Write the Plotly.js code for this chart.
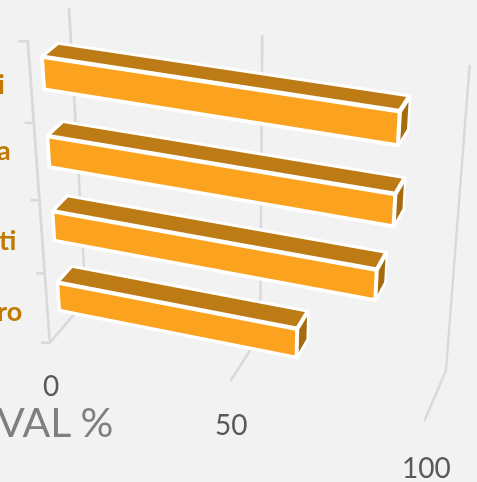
<!DOCTYPE html>
<html><head><meta charset="utf-8">
<script src="https://cdn.plot.ly/plotly-3.0.1.min.js"></script>
<style>html,body{margin:0;padding:0;width:477px;height:482px;overflow:hidden;background:#f2f2f2}
#wrap{position:absolute;left:0;top:0;width:477px;height:482px;overflow:hidden}
#p{position:absolute;left:-331px;top:-417px;width:1280px;height:1280px}</style>
</head><body><div id="wrap"><div id="p"></div></div>
<script>
// data, bottom to top
const categories = ['ro','ti','a','i'];
const values = [65, 84.5, 88, 88];
const valueTicks = [0, 50, 100];
const valueTickLabels = ['0','50','100'];
const axisTitle = 'VAL %';

const colFront='#FBA31E', colTop='#BD7B16', colEnd='#A56B0C', grid='#D9D9D9';
const barHalf=0.2, barShift=-0.01, d0=0.30, d1=0.68;
const flat={ambient:1,diffuse:0,specular:0,roughness:1,fresnel:0};

// thin prisms stand in for thick lines, as WebGL lines are one pixel wide
function lineMesh(segs,w,color){
  const h=[w/4.1,w/90,w/86];
  const X=[],Y=[],Z=[],I=[],J=[],K=[];
  segs.forEach(s=>{
    const a=s[0].slice(),b=s[1].slice();
    const d=[0,1,2].map(n=>Math.abs(b[n]-a[n])/h[n]);
    const m=d.indexOf(Math.max(...d));
    const sgn=b[m]>=a[m]?1:-1;
    a[m]-=sgn*h[m];b[m]+=sgn*h[m];
    const o=[0,1,2].filter(n=>n!==m);
    const base=X.length;
    [a,b].forEach(p=>[[-1,-1],[1,-1],[1,1],[-1,1]].forEach(c=>{
      const q=p.slice();q[o[0]]+=c[0]*h[o[0]];q[o[1]]+=c[1]*h[o[1]];
      X.push(q[0]);Y.push(q[1]);Z.push(q[2]);
    }));
    [[0,1,2],[0,2,3],[4,5,6],[4,6,7],[0,1,5],[0,5,4],[1,2,6],[1,6,5],[2,3,7],[2,7,6],[3,0,4],[3,4,7]].forEach(t=>{
      I.push(base+t[0]);J.push(base+t[1]);K.push(base+t[2]);
    });
  });
  return {type:'mesh3d',x:X,y:Y,z:Z,i:I,j:J,k:K,color:color,flatshading:true,lighting:flat,hoverinfo:'skip',showscale:false};
}

const data=[];
const gridSegs=[];
valueTicks.forEach(v=>{gridSegs.push([[v,0,0],[v,1,0]]);gridSegs.push([[v,1,0],[v,1,4]]);});
gridSegs.push([[0,0,0],[0,0,4]]);
for(let k=0;k<=categories.length;k++) gridSegs.push([[0,0,k],[-1.76,-0.03,k]]);
data.push(lineMesh(gridSegs,1,grid));

const edgeSegs=[];
values.forEach((v,i)=>{
  const z0=i+0.5+barShift-barHalf,z1=i+0.5+barShift+barHalf;
  const X=[0,v,v,0,0,v,v,0],Y=[d0,d0,d1,d1,d0,d0,d1,d1],Z=[z0,z0,z0,z0,z1,z1,z1,z1];
  const I=[0,0, 4,4, 1,1, 3,3, 0,0, 0,0];
  const J=[1,5, 5,6, 2,6, 2,6, 3,7, 1,2];
  const K=[5,4, 6,7, 6,5, 6,7, 7,4, 2,3];
  const fc=[colFront,colFront,colTop,colTop,colEnd,colEnd,colTop,colTop,colTop,colTop,colTop,colTop];
  data.push({type:'mesh3d',x:X,y:Y,z:Z,i:I,j:J,k:K,facecolor:fc,flatshading:true,lighting:flat,hoverinfo:'skip',showscale:false});
  [[0,1],[1,2],[2,3],[3,0],[4,5],[5,6],[6,7],[7,4],[0,4],[1,5],[2,6],[3,7]].forEach(e=>{
    edgeSegs.push([[X[e[0]],Y[e[0]],Z[e[0]]],[X[e[1]],Y[e[1]],Z[e[1]]]]);
  });
});
data.push(lineMesh(edgeSegs,1.6,'#FFFFFF'));

const px=x=>(x+331)/1280, py=y=>1-(y+417)/1280;
const note=(t,x,y,size,color,anchor,bold)=>({text:bold?'<b>'+t+'</b>':t,x:px(x),y:py(y),xref:'paper',yref:'paper',
  showarrow:false,xanchor:anchor,yanchor:'middle',font:{family:'Lato',size:size,color:color}});
const catY=[310,239,149,84], catX=[24,18,13,7];
const tickPos=[[51,385],[231,424],[426,467]];
const ann=[];
categories.forEach((c,i)=>ann.push(note(c,catX[i],catY[i],27,'#C07A00','right',true)));
valueTickLabels.forEach((t,i)=>ann.push(note(t,tickPos[i][0],tickPos[i][1],28,'#595959','center')));
ann.push(note(axisTitle,115,421,41,'#7F7F7F','right'));

const xr=[-4,102],yr=[-0.06,1.06],zr=[-0.05,4.05];
const sx=0.01,sy=0.22,sz=0.20975;
const off=[((xr[0]+xr[1])/2-50)*sx,((yr[0]+yr[1])/2-0.5)*sy,((zr[0]+zr[1])/2-2)*sz];
const eye0=[1.115,-3.103,1.813],cen0=[0.149,0.037,-0.018];
const ax=r=>({visible:false,range:r,autorange:false,showgrid:false,zeroline:false,showline:false,showticklabels:false,showspikes:false,showbackground:false,title:{text:''}});
Plotly.newPlot('p',data,{
  width:1280,height:1280,margin:{l:0,r:0,t:0,b:0,pad:0},autosize:false,showlegend:false,
  paper_bgcolor:'#f2f2f2',plot_bgcolor:'#f2f2f2',hovermode:false,annotations:ann,
  scene:{domain:{x:[0,1],y:[0,1]},bgcolor:'#f2f2f2',
    xaxis:ax(xr),yaxis:ax(yr),zaxis:ax(zr),
    aspectmode:'manual',aspectratio:{x:(xr[1]-xr[0])*sx,y:(yr[1]-yr[0])*sy,z:(zr[1]-zr[0])*sz},
    camera:{projection:{type:'perspective'},up:{x:-0.166,y:0.458,z:0.873},
      eye:{x:eye0[0]-off[0],y:eye0[1]-off[1],z:eye0[2]-off[2]},
      center:{x:cen0[0]-off[0],y:cen0[1]-off[1],z:cen0[2]-off[2]}}}
},{displayModeBar:false,responsive:false});
</script></body></html>
